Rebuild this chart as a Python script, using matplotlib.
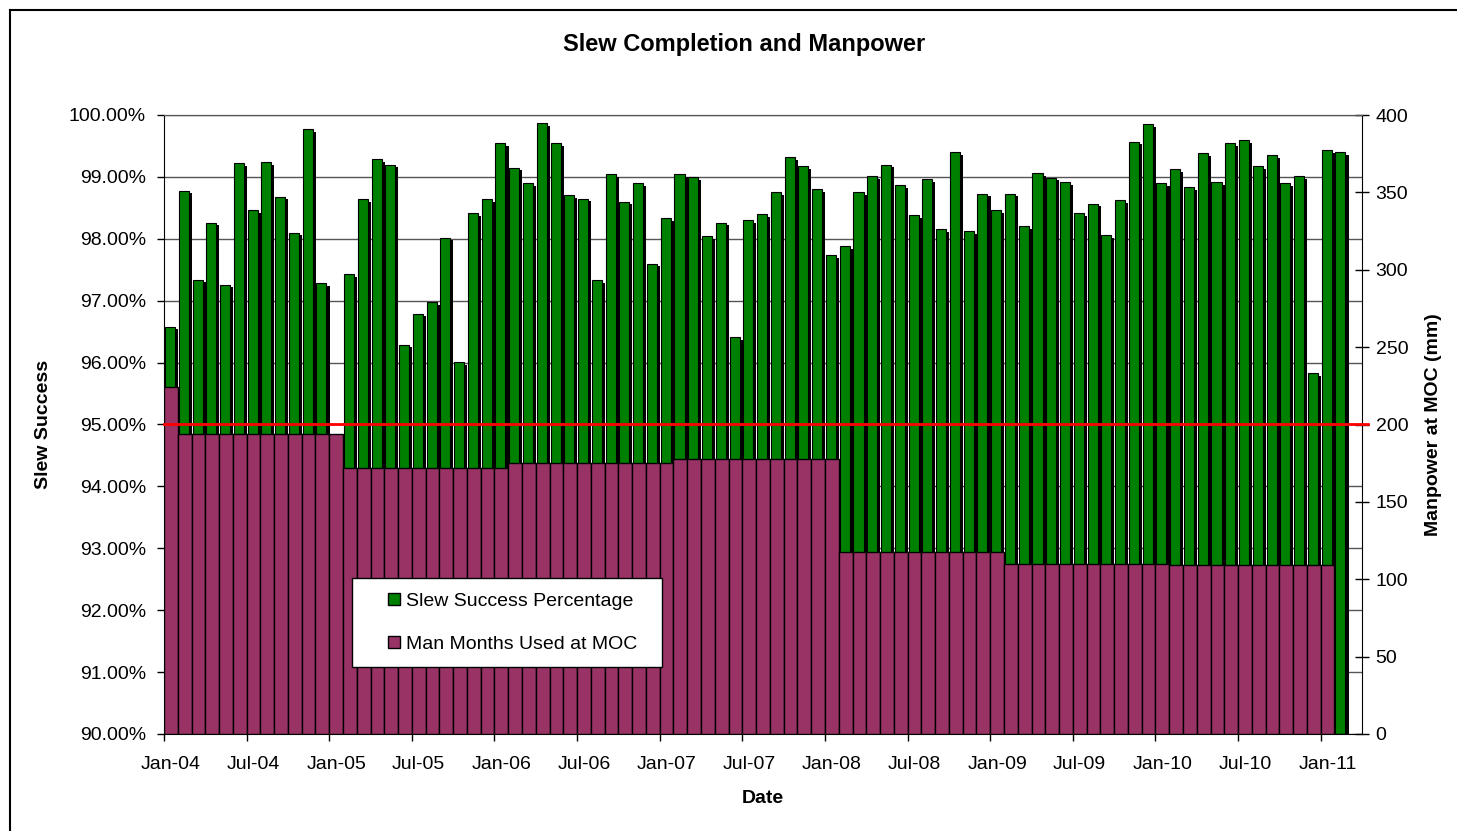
import numpy as np
import pandas as pd
import matplotlib
matplotlib.use("Agg")
import matplotlib.pyplot as plt
import matplotlib.patheffects as pe
from matplotlib.patches import Patch, Rectangle
from matplotlib.legend_handler import HandlerPatch
from matplotlib.lines import Line2D
import matplotlib.transforms as mtransforms

plt.rcParams['font.family'] = ['Liberation Sans', 'DejaVu Sans']

# ---------------- data ----------------
months = pd.date_range("2004-01-01", periods=87, freq="MS")
month_labels = [d.strftime("%b-%y") for d in months]

slew_success = [
    96.58, 98.78, 97.34, 98.26, 97.26, 99.22, 98.46, 99.24, 98.68, 98.10, 99.77, 97.29,   # 2004
    np.nan, 97.43, 98.64, 99.29, 99.20, 96.29, 96.79, 96.98, 98.02, 96.01, 98.42, 98.64,  # 2005
    99.55, 99.15, 98.90, 99.87, 99.55, 98.71, 98.65, 97.33, 99.04, 98.60, 98.90, 97.60,   # 2006
    98.34, 99.04, 99.00, 98.04, 98.26, 96.41, 98.30, 98.40, 98.76, 99.32, 99.18, 98.80,   # 2007
    97.74, 97.88, 98.76, 99.01, 99.20, 98.87, 98.38, 98.96, 98.16, 99.40, 98.12, 98.73,   # 2008
    98.46, 98.73, 98.20, 99.06, 98.99, 98.92, 98.42, 98.57, 98.06, 98.62, 99.57, 99.85,   # 2009
    98.90, 99.12, 98.84, 99.38, 98.92, 99.55, 99.60, 99.18, 99.35, 98.90, 99.01, 95.83,   # 2010
    99.43, 99.40, np.nan,                                                                 # 2011
]

manpower = (
    [224.0]
    + [194.0] * 12
    + [172.0] * 12
    + [175.0] * 12
    + [177.5] * 12
    + [117.5] * 12
    + [110.0] * 12
    + [109.0] * 12
    + [0.0, np.nan]
)

TARGET = 95.0
left_ticks = [90, 91, 92, 93, 94, 95, 96, 97, 98, 99, 100]
right_ticks = [0, 50, 100, 150, 200, 250, 300, 350, 400]

GREEN = "#008000"
PLUM = "#993366"

# ---------------- figure ----------------
W, H, DPI = 1457, 831, 100
fig = plt.figure(figsize=(W / DPI, H / DPI), dpi=DPI)
L, R, T, B = 164, 1362, 115, 734
ax = fig.add_axes([L / W, 1 - B / H, (R - L) / W, (B - T) / H])
ax2 = ax.twinx()

n = len(month_labels)
x = np.arange(n)
green = np.array(slew_success, dtype=float)
plum = np.array(manpower, dtype=float)

ymin, ymax = left_ticks[0], left_ticks[-1]

# green bars (behind), narrower with drop shadow
gbars = ax.bar(x - 0.43, green - ymin, bottom=ymin, width=0.73, align="edge",
               color=GREEN, edgecolor="black", linewidth=0.8, zorder=2)
for b in gbars:
    b.set_path_effects([pe.SimplePatchShadow(offset=(2.2, -2.0), shadow_rgbFace="black",
                                             alpha=1.0), pe.Normal()])

# plum bars (in front), full width
ax2.bar(x, plum, width=1.0, color=PLUM, edgecolor="black", linewidth=1.0, zorder=2)

# target line at 95%
blend = mtransforms.blended_transform_factory(ax2.transAxes, ax.transData)
ax2.add_line(Line2D([0, 1.005], [TARGET, TARGET], transform=blend, color="#ff0000",
                    lw=2.0, clip_on=False, zorder=5))

# axes limits / ticks
ax.set_xlim(-0.5, n - 0.5)
ax.set_ylim(ymin, ymax)
ax2.set_ylim(right_ticks[0], right_ticks[-1])

ax.set_yticks(left_ticks)
ax.set_yticklabels([f"{v:.2f}%" for v in left_ticks])
ax2.set_yticks(right_ticks)
ax2.set_yticklabels([str(v) for v in right_ticks])

label_idx = list(range(0, n - 2, 6))
ax.set_xticks([i - 0.5 for i in label_idx])
ax.set_xticklabels([])
ax.set_xticks(label_idx, minor=True)
ax.set_xticklabels([month_labels[i] for i in label_idx], minor=True)

ax.tick_params(axis="x", which="major", direction="out", length=5, width=1, color="black")
ax.tick_params(axis="x", which="minor", length=0, pad=16, labelsize=14)
ax.tick_params(axis="y", direction="out", length=5, width=1, pad=8, labelsize=14)
ax2.tick_params(axis="y", direction="inout", length=9.5, width=1, pad=5, labelsize=14)

ax.yaxis.grid(True, color="#555555", linewidth=1.0)
ax.set_axisbelow(True)

for s in ["left", "bottom"]:
    ax.spines[s].set_color("black")
ax.spines["top"].set_color("#555555")
ax.spines["right"].set_visible(False)
ax2.spines["left"].set_visible(False)
ax2.spines["bottom"].set_visible(False)
ax2.spines["top"].set_color("#555555")
ax2.spines["right"].set_color("black")
ax2.patch.set_visible(False)

ax.set_xlabel("Date", fontsize=14, fontweight="bold", labelpad=12)
ax.set_ylabel("Slew Success", fontsize=14, fontweight="bold", labelpad=12)
ax2.set_ylabel("Manpower at MOC (mm)", fontsize=14, fontweight="bold", labelpad=12)

fig.text(744 / W, 1 - 44 / H, "Slew Completion and Manpower", ha="center", va="center",
         fontsize=17, fontweight="bold")


# legend with small square markers
def square_patch(legend, orig_handle, xdescent, ydescent, width, height, fontsize):
    s = 0.62 * fontsize
    return Rectangle((-xdescent + width - s, -ydescent + (height - s) / 2), s, s)


handles = [Patch(facecolor=GREEN, edgecolor="black", linewidth=1.0),
           Patch(facecolor=PLUM, edgecolor="black", linewidth=1.0)]
labels = ["Slew Success Percentage", "Man Months Used at MOC"]
lx0 = (352 - L) / (R - L)
lw_ = (662 - 352) / (R - L)
ly1 = (B - 578) / (B - T)
leg = ax2.legend(handles, labels, loc="upper left",
                 bbox_to_anchor=(lx0, ly1 - 0.2, lw_, 0.2), mode="expand",
                 borderaxespad=0, borderpad=0.73, labelspacing=1.31,
                 handlelength=1.75, handleheight=0.7, handletextpad=0.3,
                 fontsize=14, fancybox=False, framealpha=1, edgecolor="black",
                 handler_map={Patch: HandlerPatch(patch_func=square_patch)})
leg.get_frame().set_linewidth(1.0)
leg.set_zorder(10)

# outer chart border
fig.add_artist(Line2D([10 / W, 10 / W], [1 - 10 / H, 0], transform=fig.transFigure,
                      color="black", lw=1.5))
fig.add_artist(Line2D([10 / W, 1], [1 - 10 / H, 1 - 10 / H], transform=fig.transFigure,
                      color="black", lw=1.5))

fig.savefig("out.png", dpi=DPI)
